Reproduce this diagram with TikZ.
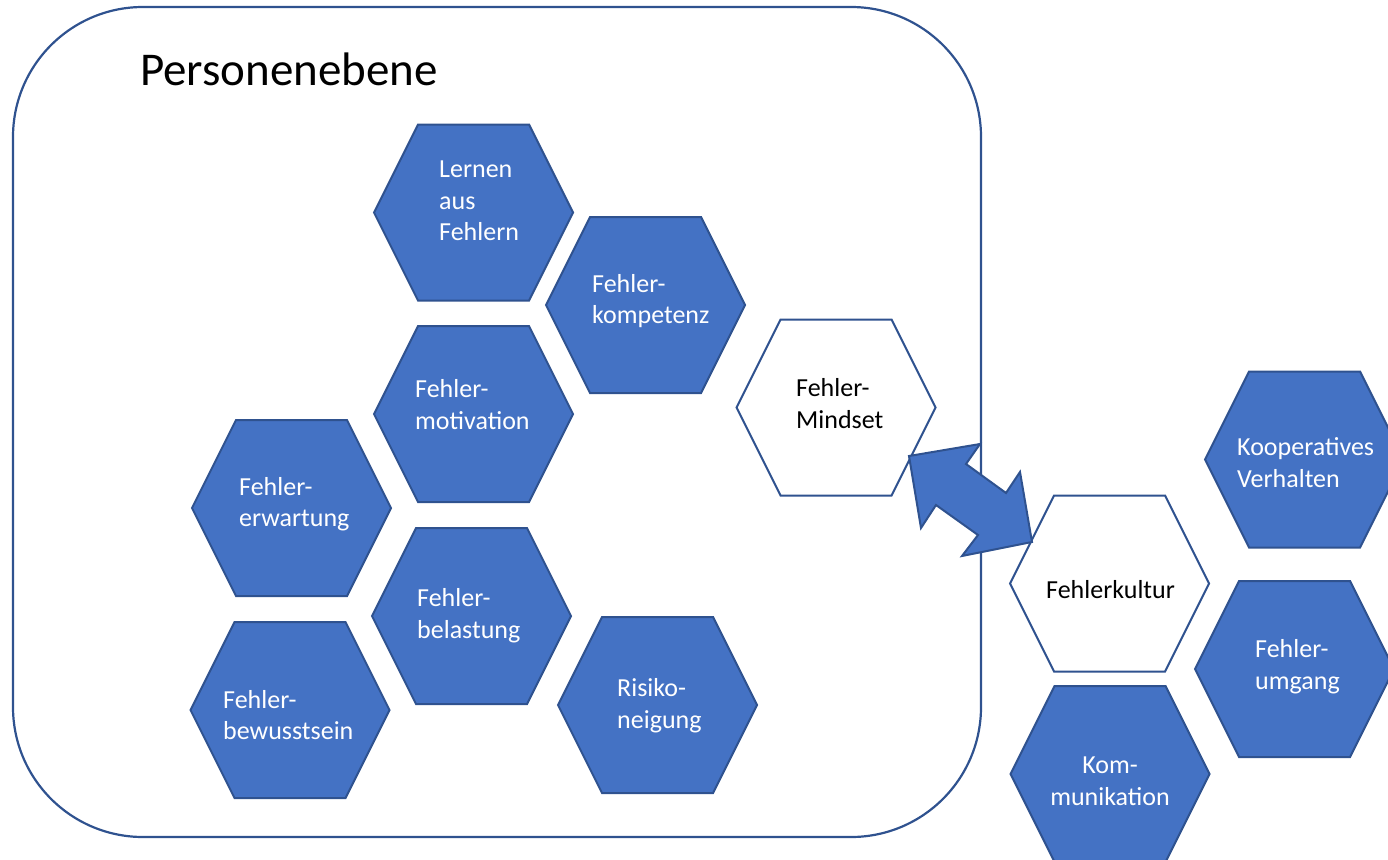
\documentclass[tikz,border=0pt]{standalone}
\usepackage{fontspec}
\setmainfont{Carlito}
\definecolor{hexblue}{HTML}{4472C4}
\definecolor{hexline}{HTML}{2F528F}
\newcommand\ls{\rule[-7pt]{0pt}{26pt}}
\newcommand\hexpath[3]{\draw[#3, shift={(#1,#2)}] (-99.5,0) -- (-55.5,-88) -- (55.5,-88) -- (99.5,0) -- (55.5,88) -- (-55.5,88) -- cycle;}
\begin{document}
\begin{tikzpicture}[x=1pt,y=-1pt,
  bluehex/.style={fill=hexblue, draw=hexline, line width=2pt, line join=miter},
  whitehex/.style={fill=white, draw=hexline, line width=2pt, line join=miter},
  lbl/.style={inner sep=0pt, anchor=west, align=left, font=\fontsize{26}{31.7}\selectfont},
  wlbl/.style={lbl, text=white},
  klbl/.style={lbl, text=black},
  frame/.style={draw=hexline, line width=2.2pt, rounded corners=130pt, inner sep=0pt}]
\useasboundingbox (0,0) rectangle (1388,859);
\clip (0,0) rectangle (1388,859);

% frame
\node[frame, minimum width=968pt, minimum height=830pt] (frame) at (497,422) {};
\node[anchor=base west, inner sep=0pt, font=\fontsize{47}{56}\selectfont] (title) at (140,85) {Personenebene};

% hexagons inside frame
\hexpath{473.5}{212.5}{bluehex}
\node[wlbl] (lernen) at (439,203) {\ls Lernen\\\ls aus\\\ls Fehlern};
\hexpath{645.5}{305}{bluehex}
\node[wlbl] (kompetenz) at (592,302) {\ls Fehler-\\\ls kompetenz};
\hexpath{473.5}{414}{bluehex}
\node[wlbl] (motivation) at (415,407.5) {\ls Fehler-\\\ls motivation};
\hexpath{291.5}{508}{bluehex}
\node[wlbl] (erwartung) at (239,505) {\ls Fehler-\\\ls erwartung};
\hexpath{471.5}{616}{bluehex}
\node[wlbl] (belastung) at (417,616.5) {\ls Fehler-\\\ls belastung};
\hexpath{290}{710}{bluehex}
\node[wlbl] (bewusstsein) at (223,718) {\ls Fehler-\\\ls bewusstsein};
\hexpath{657.5}{705}{bluehex}
\node[wlbl] (risiko) at (617,706.5) {\ls Risiko-\\\ls neigung};

% white hexagons
\hexpath{836}{407.5}{whitehex}
\node[klbl] (mindset) at (796,406.5) {\ls Fehler-\\\ls Mindset};
\hexpath{1109.5}{583.5}{whitehex}
\node[klbl] (kultur) at (1046,592) {\ls Fehlerkultur};

% right side hexagons
\hexpath{1304.5}{459.5}{bluehex}
\node[wlbl] (koop) at (1237,465.5) {\ls Kooperatives\\\ls Verhalten};
\hexpath{1294.5}{669}{bluehex}
\node[wlbl] (umgang) at (1255,667.5) {\ls Fehler-\\\ls umgang};
\hexpath{1110}{774}{bluehex}
\node[wlbl, anchor=center, align=center] (komm) at (1110,783.5) {\ls Kom-\\\ls munikation};

% double block arrow
\draw[fill=hexblue, draw=hexline, line width=2pt, line join=miter]
  (909,456) -- (980,444) -- (966,464) -- (1006,493) -- (1020,472) -- (1032,542)
  -- (962,556) -- (978,535) -- (936,505) -- (921,528) -- cycle;
\end{tikzpicture}
\end{document}
